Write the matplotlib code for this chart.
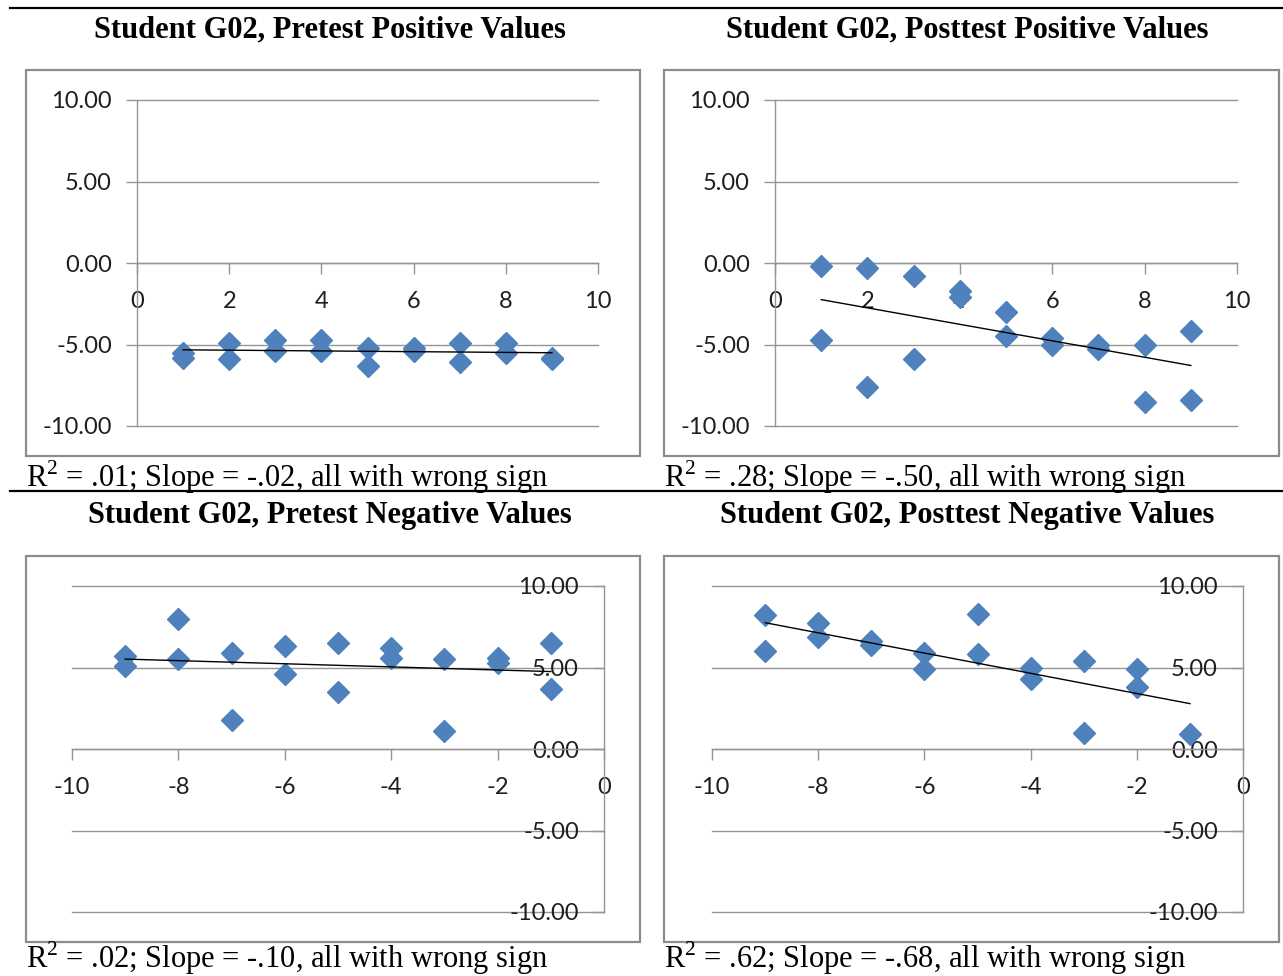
import numpy as np
import matplotlib
matplotlib.use("Agg")
import matplotlib.pyplot as plt
from matplotlib.patches import Rectangle
from matplotlib.lines import Line2D
from matplotlib.ticker import FormatStrFormatter

plt.rcParams["font.family"] = ["Lato", "DejaVu Sans"]
plt.rcParams["axes.unicode_minus"] = False
plt.rcParams["mathtext.fontset"] = "custom"
plt.rcParams["mathtext.rm"] = "Liberation Serif"

# data
pos_x = [1, 1, 2, 2, 3, 3, 4, 4, 5, 5, 6, 6, 7, 7, 8, 8, 9, 9]
pre_pos_y = [-5.5, -5.8, -4.9, -5.9, -4.7, -5.4, -4.7, -5.4, -5.2, -6.3,
             -5.2, -5.4, -4.9, -6.1, -4.9, -5.5, -5.8, -5.9]
post_pos_y = [-0.2, -4.7, -0.3, -7.6, -0.8, -5.9, -1.7, -2.1, -3.0, -4.5,
              -4.6, -5.0, -5.0, -5.3, -5.0, -8.5, -4.2, -8.4]

pre_neg_x = [-9, -9, -8, -8, -7, -7, -6, -6, -5, -5, -4, -4, -3, -3, -2, -2, -1, -1]
pre_neg_y = [5.7, 5.1, 8.0, 5.5, 5.9, 1.8, 6.3, 4.6, 6.5, 3.5,
             6.2, 5.6, 5.5, 1.1, 5.6, 5.3, 6.5, 3.7]
post_neg_x = [-9, -9, -8, -8, -7, -7, -6, -6, -5, -5, -4, -4, -3, -3, -2, -2, -1]
post_neg_y = [8.2, 6.0, 7.7, 6.9, 6.6, 6.4, 5.9, 4.9, 8.3, 5.8,
              5.0, 4.3, 5.4, 1.0, 4.9, 3.8, 0.9]

titles = ["Student G02, Pretest Positive Values", "Student G02, Posttest Positive Values",
          "Student G02, Pretest Negative Values", "Student G02, Posttest Negative Values"]
captions = [r"R$^{2}$ = .01; Slope = -.02, all with wrong sign",
            r"R$^{2}$ = .28; Slope = -.50, all with wrong sign",
            r"R$^{2}$ = .02; Slope = -.10, all with wrong sign",
            r"R$^{2}$ = .62; Slope = -.68, all with wrong sign"]

W, H = 1283, 976
GRID = "#959595"
FRAME = "#8c8c8c"
BLUE = "#4F81BD"

fig = plt.figure(figsize=(W / 100, H / 100), dpi=100)


def rect(l, t, r, b):  # pixel box -> figure fraction
    return [l / W, 1 - b / H, (r - l) / W, (b - t) / H]


def panel(box, xs, ys, neg):
    ax = fig.add_axes(rect(*box))
    ax.patch.set_visible(False)
    if neg:
        ax.set_xlim(-10, 0)
        ax.set_xticks(range(-10, 1, 2))
        ax.spines["left"].set_position(("data", 0))
    else:
        ax.set_xlim(0, 10)
        ax.set_xticks(range(0, 11, 2))
    ax.set_ylim(-10, 10)
    ax.set_yticks([-10, -5, 0, 5, 10])
    ax.yaxis.set_major_formatter(FormatStrFormatter("%.2f"))
    ax.spines["bottom"].set_position(("data", 0))
    for s in ["top", "right"]:
        ax.spines[s].set_visible(False)
    for s in ["left", "bottom"]:
        ax.spines[s].set_color(GRID)
        ax.spines[s].set_linewidth(1)
    ax.grid(axis="y", color=GRID, lw=1)
    for gl in ax.get_ygridlines():
        gl.set_clip_on(False)
    ax.set_axisbelow(True)
    ax.tick_params(direction="out", length=8, width=1, color=GRID,
                   labelsize=17, labelcolor="#1e1e1e")
    ax.tick_params(axis="y", pad=10)
    ax.tick_params(axis="x", pad=12)
    ax.plot(xs, ys, "D", ms=11, color=BLUE, mec=BLUE, zorder=3, clip_on=False)
    # linear trend line (Excel style)
    k, b = np.polyfit(xs, ys, 1)
    xx = np.array([min(xs), max(xs)])
    ax.plot(xx, k * xx + b, color="black", lw=1, zorder=4)
    return ax


panel((137, 100, 598, 426), pos_x, pre_pos_y, False)
panel((775, 100, 1237, 426), pos_x, post_pos_y, False)
panel((72, 586, 604, 912), pre_neg_x, pre_neg_y, True)
panel((712, 586, 1243, 912), post_neg_x, post_neg_y, True)

# chart frames
for l, t, r, b in [(26, 70, 640, 456), (664, 70, 1279, 456),
                   (26, 556, 640, 942), (664, 556, 1279, 942)]:
    fig.patches.append(Rectangle((l / W, 1 - b / H), (r - l) / W, (b - t) / H,
                                 transform=fig.transFigure, fill=False,
                                 ec=FRAME, lw=1.6))

# table rules
for y in [8, 491]:
    fig.lines.append(Line2D([10 / W, 1], [1 - y / H, 1 - y / H],
                            transform=fig.transFigure, color="black", lw=1.6))

# titles and captions
serif = ["Liberation Serif", "DejaVu Serif"]
for i, (cx, ty) in enumerate([(330, 37), (967, 37), (330, 523), (967, 523)]):
    fig.text(cx / W, 1 - ty / H, titles[i], ha="center", va="baseline",
             fontsize=22, fontweight="bold", family=serif)
for i, (lx, by) in enumerate([(26, 487), (664, 487), (26, 968), (664, 968)]):
    fig.text(lx / W, 1 - by / H, captions[i], ha="left", va="baseline",
             fontsize=22, family=serif)

fig.savefig("out.png", dpi=100)
